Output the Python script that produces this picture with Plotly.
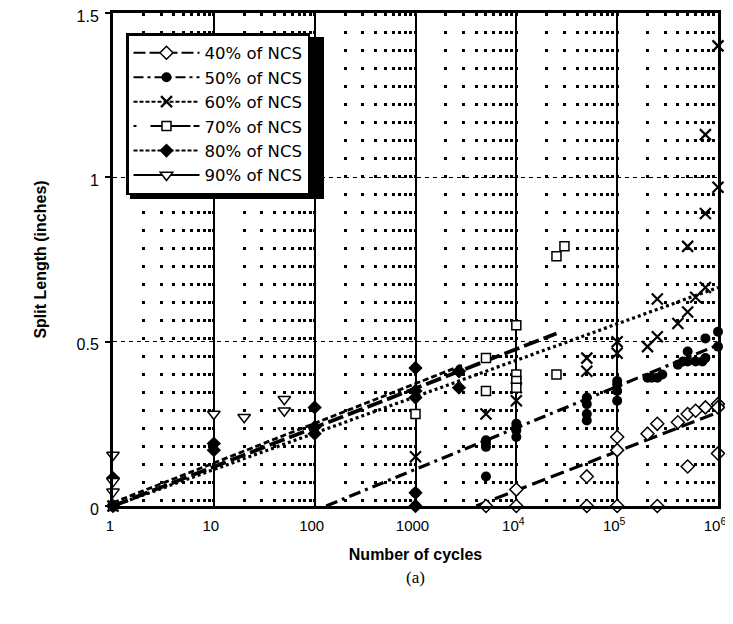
import plotly.graph_objects as go

# ---------------- data ----------------
series_names = ["40% of NCS", "50% of NCS", "60% of NCS", "70% of NCS", "80% of NCS", "90% of NCS"]

x40 = [5000, 1e4, 1e4, 5e4, 5e4, 1e5, 1e5, 1e5, 2e5, 2.5e5, 2.5e5, 4e5, 5e5, 5e5, 6e5, 7.5e5, 1e6, 1e6, 1e6]
y40 = [0, 0.05, 0, 0.09, 0, 0.17, 0.21, 0, 0.22, 0.25, 0, 0.255, 0.28, 0.12, 0.29, 0.30, 0.31, 0.30, 0.16]

x50 = [1000, 1000, 5000, 5000, 5000, 5000, 1e4, 1e4, 1e4, 1e4, 5e4, 5e4, 5e4, 5e4,
       1e5, 1e5, 1e5, 1e5, 2e5, 2.2e5, 2.5e5, 2.8e5, 4e5, 4.5e5, 5e5, 6e5, 7e5, 7.5e5,
       5e5, 7.5e5, 1e6, 1e6]
y50 = [0.04, 0, 0.09, 0.18, 0.19, 0.20, 0.21, 0.23, 0.24, 0.25, 0.26, 0.28, 0.31, 0.33,
       0.32, 0.35, 0.37, 0.38, 0.39, 0.39, 0.39, 0.40, 0.43, 0.44, 0.44, 0.44, 0.44, 0.45,
       0.47, 0.51, 0.53, 0.485]

x60 = [1, 1000, 5000, 1e4, 1e4, 5e4, 5e4, 1e5, 1e5, 2e5, 2.5e5, 4e5, 5e5, 2.5e5, 6e5,
       7.5e5, 5e5, 7.5e5, 7.5e5, 1e6, 1e6]
y60 = [0, 0.15, 0.28, 0.32, 0.36, 0.45, 0.41, 0.50, 0.465, 0.485, 0.515, 0.555, 0.59, 0.63, 0.635,
       0.665, 0.79, 0.89, 1.13, 0.97, 1.40]

x70 = [1, 1000, 5000, 5000, 1e4, 1e4, 1e4, 1e4, 2.5e4, 2.5e4, 3e4]
y70 = [0, 0.28, 0.45, 0.35, 0.55, 0.40, 0.38, 0.36, 0.40, 0.76, 0.79]

x80 = [1, 1, 10, 10, 100, 100, 100, 1000, 1000, 1000, 1000, 1000, 2700, 2700]
y80 = [0, 0.085, 0.19, 0.17, 0.30, 0.22, 0.24, 0.42, 0.35, 0.33, 0.04, 0, 0.41, 0.36]

x90 = [1, 1, 1, 10, 20, 50, 50]
y90 = [0.155, 0.075, 0.043, 0.28, 0.27, 0.325, 0.29]

# logarithmic trend lines (start / end)
trend40_x, trend40_y = [4000, 1e6], [0.0, 0.285]
trend50_x, trend50_y = [130, 1e6], [0.0, 0.49]
trend60_x, trend60_y = [1, 1e6], [0.0, 0.665]
trend70_x, trend70_y = [1, 2.5e4], [0.0, 0.525]
trend80_x, trend80_y = [1, 3000], [0.01, 0.43]

x_tick_vals = [1, 10, 100, 1000, 1e4, 1e5, 1e6]
x_tick_text = ["1", "10", "100", "1000", "10<sup>4</sup>", "10<sup>5</sup>", "10<sup>6</sup>"]
y_tick_vals = [0, 0.5, 1, 1.5]
y_tick_text = ["0", "0.5", "1", "1.5"]

# ---------------- layout geometry (pixels) ----------------
# the page body has an 8px margin, so the figure is drawn 8px in from the window corner
OFF = 8
W, H = 733 - OFF, 624 - OFF
L, R, T, B = 113 - OFF, 15, 13 - OFF, 118
PW, PH = W - L - R, H - T - B


def px_x(p):  # window pixel -> paper fraction
    return (p - OFF - L) / PW


def px_y(p):
    return (H - B - (p - OFF)) / PH


# ---------------- styles ----------------
FONT = "Liberation Sans, Arial, Helvetica, sans-serif"
LEG_FONT = "DejaVu Sans, Liberation Sans, Arial, sans-serif"
marker_styles = [
    dict(symbol="diamond", size=10, color="white", line=dict(color="black", width=1.5)),
    dict(symbol="circle", size=10, color="black", line=dict(color="black", width=0)),
    dict(symbol="x-thin", size=11, color="black", line=dict(color="black", width=2.2)),
    dict(symbol="square", size=9, color="white", line=dict(color="black", width=1.5)),
    dict(symbol="diamond", size=11, color="black", line=dict(color="black", width=0)),
    dict(symbol="triangle-down", size=11, color="white", line=dict(color="black", width=1.5)),
]
trend_dash = ["14px,6px", "12px,5px,3px,5px", "3px,3px", "16px,5px", "6px,3px", "solid"]
trend_width = [3.2, 3.2, 3.2, 3.8, 2.8, 2]
legend_dash = ["12px,4px", "10px,4px,3px,4px", "4px,2px", "3px,14px,40px", "4px,2px", "solid"]

xs = [x40, x50, x60, x70, x80, x90]
ys = [y40, y50, y60, y70, y80, y90]
trends = [(trend40_x, trend40_y), (trend50_x, trend50_y), (trend60_x, trend60_y),
          (trend70_x, trend70_y), (trend80_x, trend80_y), None]

fig = go.Figure()
for i, name in enumerate(series_names):
    if trends[i] is not None:
        tx, ty = trends[i]
        fig.add_trace(go.Scatter(x=tx, y=ty, mode="lines", showlegend=False, hoverinfo="skip",
                                 line=dict(color="black", width=trend_width[i], dash=trend_dash[i]),
                                 cliponaxis=False))
for i, name in enumerate(series_names):
    fig.add_trace(go.Scatter(x=xs[i], y=ys[i], mode="markers", showlegend=False, name=name,
                             marker=marker_styles[i], cliponaxis=False))
# legend entries
for i, name in enumerate(series_names):
    fig.add_trace(go.Scatter(x=[None], y=[None], mode="lines+markers", name=name,
                             marker=marker_styles[i],
                             line=dict(color="black", width=2, dash=legend_dash[i])))

# legend box (window pixels) and its drop shadow
LEG_L, LEG_T = 126, 33
LEG_W, LEG_H = 194, 162
SH = 4

fig.update_layout(
    width=W, height=H,
    margin=dict(l=L, r=R, t=T, b=B, autoexpand=False),
    paper_bgcolor="white", plot_bgcolor="white",
    font=dict(family=FONT, size=15, color="black"),
    showlegend=True,
    legend=dict(x=px_x(LEG_L), y=px_y(LEG_T), xanchor="left", yanchor="top",
                bgcolor="white", bordercolor="black", borderwidth=2.5,
                font=dict(family=LEG_FONT, size=16.5, color="black"),
                itemwidth=66, traceorder="normal"),
    xaxis=dict(type="log", range=[0, 6], tickvals=x_tick_vals, ticktext=x_tick_text,
               showline=True, linecolor="black", linewidth=3, mirror=True,
               showgrid=True, gridcolor="black", gridwidth=2,
               minor=dict(showgrid=True, gridcolor="black", gridwidth=2.5, griddash="2.5px,15.5px",
                          dtick="D1"),
               ticks="", zeroline=False, automargin=False, ticklabelshift=-3,
               ticklabelstandoff=4, ticklabeloverflow="allow",
               title=dict(text="<b>Number of cycles</b>", font=dict(family=FONT, size=16), standoff=16),
               tickfont=dict(family=FONT, size=15)),
    yaxis=dict(range=[0, 1.5], tickvals=y_tick_vals, ticktext=y_tick_text,
               showline=True, linecolor="black", linewidth=3, mirror=True,
               showgrid=True, gridcolor="black", gridwidth=1, griddash="4px,4px",
               ticks="outside", ticklen=5, tickcolor="black", tickwidth=1.5, zeroline=False,
               automargin=False, ticklabelstandoff=3, ticklabeloverflow="allow", ticklabelshift=3,
               title=dict(text="<b>Split Length (inches)</b>", font=dict(family=FONT, size=16), standoff=26),
               tickfont=dict(family=FONT, size=16)),
    shapes=[dict(type="rect", xref="paper", yref="paper",
                 x0=px_x(LEG_L + SH), x1=px_x(LEG_L + LEG_W + SH),
                 y0=px_y(LEG_T + LEG_H + SH), y1=px_y(LEG_T + SH),
                 fillcolor="black", line=dict(width=0), layer="above")],
    annotations=[dict(text="(a)", xref="paper", yref="paper", x=0.5, y=px_y(577), showarrow=False,
                      xanchor="center", yanchor="middle",
                      font=dict(family="Liberation Serif, Times New Roman, serif", size=17))],
)

fig.write_html("out.html")
